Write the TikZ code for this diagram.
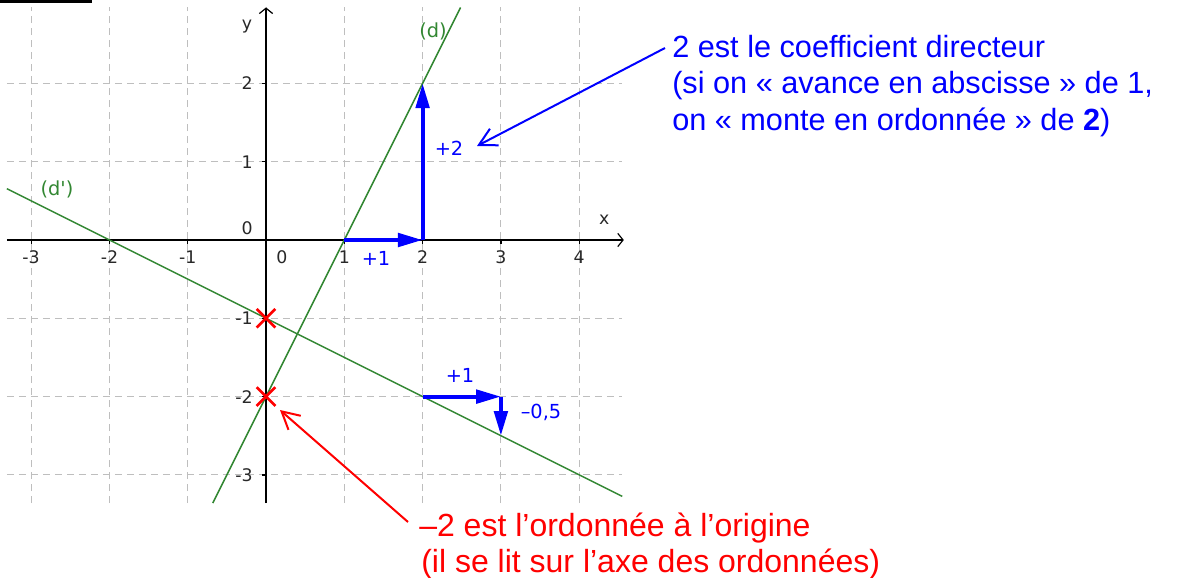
\documentclass[tikz,border=0pt]{standalone}
\usepackage{fontspec}
\setmainfont{Liberation Sans}
\newfontfamily\ggbfont{DejaVu Sans}
\usetikzlibrary{arrows.meta,shapes.misc,calc}
\definecolor{gridgray}{RGB}{190,190,190}
\definecolor{dgreen}{RGB}{50,135,50}
\definecolor{tickblack}{RGB}{40,40,40}
\begin{document}
\begin{tikzpicture}[x=0.75pt,y=-0.75pt,
  gridline/.style={gridgray, line width=0.75pt, dash pattern=on 5.25pt off 3.75pt},
  axisline/.style={black, line width=0.9pt, -{Straight Barb[length=4pt,width=10pt]}},
  tickmark/.style={black, line width=0.9pt},
  ticklabel/.style={font=\ggbfont\fontsize{13}{15}\selectfont, text=tickblack, inner sep=0pt},
  dline/.style={dgreen, line width=1.1pt},
  dlabel/.style={font=\ggbfont\fontsize{14.5}{16}\selectfont, text=dgreen, inner sep=0pt},
  steparrow/.style={blue, line width=3pt, -{Triangle[length=18.5pt,width=10pt]}},
  steplabel/.style={font=\ggbfont\fontsize{14.5}{16}\selectfont, text=blue, inner sep=0pt},
  crossmark/.style={cross out, draw=red, line width=2pt, minimum size=12pt, inner sep=0pt},
  annotarrow/.style={line width=1.5pt, -{Straight Barb[length=13pt,width=14pt]}},
  annot/.style={font=\fontsize{23}{27.5}\selectfont, inner sep=0pt, anchor=base west},
  annotred/.style={font=\fontsize{24}{28}\selectfont, inner sep=0pt, anchor=base west},
]
\useasboundingbox (0,0) rectangle (1181,578);
\fill[black] (0,0) rectangle (92,2.5);

\begin{scope}[shift={(266,240)}, x=58.725pt, y=58.725pt]
  % grid
  \foreach \i in {-3,...,4} \draw[gridline] (\i,-3.36) -- (\i,2.97);
  \foreach \j in {-3,...,2} \draw[gridline] (-3.31,\j) -- (4.55,\j);
  % axes
  \coordinate (xs) at (-3.31,0); \coordinate (xe) at (4.57,0);
  \coordinate (ys) at (0,-3.36); \coordinate (ye) at (0,2.97);
  \draw[axisline] (xs) -- (xe);
  \draw[axisline] (ys) -- (ye);
  \foreach \i in {-3,-2,-1,1,2,3,4} \draw[tickmark] (\i,0) -- (\i,-0.05);
  \foreach \j in {-3,-2,-1,1,2} \draw[tickmark] (0,\j) -- (-0.05,\j);
  \foreach \i in {-3,-2,-1,1,2,3,4} \node[ticklabel] (xl\i) at (\i,-0.217) {\i};
  \node[ticklabel] (xl0) at (0.204,-0.217) {0};
  \foreach \j in {-3,-2,-1,1,2} \node[ticklabel, anchor=east] (yl\j) at (-0.166,\j) {\j};
  \node[ticklabel, anchor=east] (yl0) at (-0.166,0.153) {0};
  \node[ticklabel] (xname) at (4.32,0.255) {x};
  \node[ticklabel] (yname) at (-0.243,2.72) {y};
  % lines
  \coordinate (dA) at (-0.68,-3.36); \coordinate (dB) at (2.485,2.97);
  \draw[dline] (dA) -- (dB);
  \coordinate (dpA) at (-3.31,0.655); \coordinate (dpB) at (4.55,-3.275);
  \draw[dline] (dpA) -- (dpB);
  % step arrows
  \coordinate (A1) at (1,0); \coordinate (A2) at (2,0); \coordinate (A3) at (2,2);
  \draw[steparrow] (A1) -- (A2);
  \draw[steparrow] (A2) -- (A3);
  \coordinate (B1) at (2,-2); \coordinate (B2) at (3,-2); \coordinate (B3) at (3,-2.5);
  \draw[steparrow] (B1) -- (B2);
  \draw[steparrow] (B2) -- (B3);
  % crosses
  \node[crossmark] (c1) at (0,-1) {};
  \node[crossmark] (c2) at (0,-2) {};
\end{scope}

\node[dlabel] (dname) at (433,31) {(d)};
\node[dlabel] (dpname) at (57,189) {(d')};
\node[steplabel] (pA) at (376,258) {+1};
\node[steplabel] (pB) at (449,148) {+2};
\node[steplabel] (pC) at (460,375) {+1};
\node[steplabel] (pD) at (541,412) {–0,5};

\node[annot, text=blue] (coef1) at (672,57) {2 est le coefficient directeur};
\node[annot, text=blue] (coef2) at (672,93) {(si on « avance en abscisse » de 1,};
\node[annot, text=blue] (coef3) at (672,130) {on « monte en ordonnée » de \textbf{2})};
\node[annotred, text=red] (ord1) at (419,536) {–2 est l’ordonnée à l’origine};
\node[annotred, text=red] (ord2) at (421,572) {(il se lit sur l’axe des ordonnées)};
\coordinate (tipB) at (477,146);
\coordinate (tipR) at (280,410);
\draw[annotarrow, blue] ($(coef1.base west)+(-7,-9)$) -- (tipB);
\draw[annotarrow, red] ($(ord1.base west)+(-11,-14)$) -- (tipR);
\end{tikzpicture}
\end{document}
